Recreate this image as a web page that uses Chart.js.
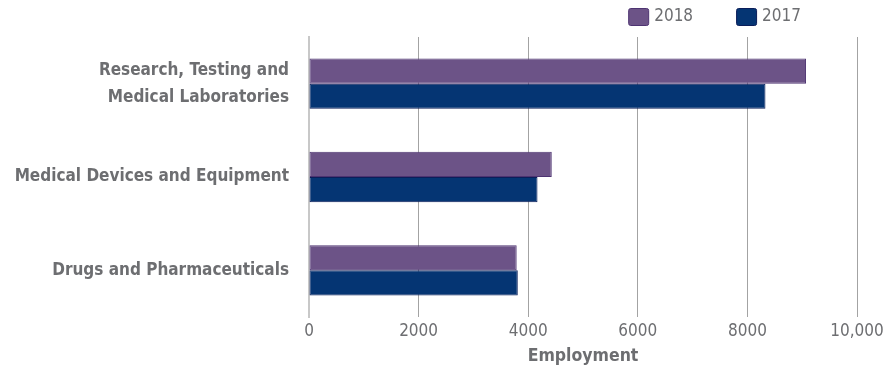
<!DOCTYPE html>
<html>
<head>
<meta charset="utf-8">
<script src="https://cdn.jsdelivr.net/npm/chart.js@4"></script>
<style>
  html, body { margin: 0; padding: 0; background: #fff; }
  #wrap { width: 896px; height: 375px; }
</style>
</head>
<body>
<div id="wrap"><canvas id="employmentChart"></canvas></div>
<script>
// data
const categories = [
    ['Research, Testing and', 'Medical Laboratories'],
    'Medical Devices and Equipment',
    'Drugs and Pharmaceuticals'
];
const seriesLabels = ['2018', '2017'];
const values2018 = [9070, 4430, 3790];
const values2017 = [8330, 4170, 3810];
const xTickValues = [0, 2000, 4000, 6000, 8000, 10000];
const xTickLabels = ['0', '2000', '4000', '6000', '8000', '10,000'];

const FONT = "'DejaVu Sans Condensed', 'DejaVu Sans', sans-serif";
const GREY = '#6d6e71';

// legend drawn at top right, above the plot
const topLegend = {
    id: 'topLegend',
    afterDraw(chart) {
        const ctx = chart.ctx;
        const area = chart.chartArea;
        ctx.save();
        ctx.font = '17px ' + FONT;
        ctx.textBaseline = 'middle';
        const items = chart.data.datasets.map(ds => ({
            text: ds.label,
            fill: ds.backgroundColor,
            stroke: ds.borderColor,
            w: 20 + 6 + ctx.measureText(ds.label).width
        }));
        const gap = 43;
        const total = items.reduce((s, it) => s + it.w, 0) + gap * (items.length - 1);
        let x = area.right - 56 - total;
        const y = 8;
        items.forEach(it => {
            ctx.fillStyle = it.fill;
            ctx.strokeStyle = it.stroke;
            ctx.lineWidth = 1;
            ctx.beginPath();
            ctx.roundRect(x + 0.5, y + 0.5, 20, 17, 2);
            ctx.fill();
            ctx.stroke();
            ctx.fillStyle = GREY;
            ctx.fillText(it.text, x + 26, y + 9);
            x += it.w + gap;
        });
        ctx.restore();
    }
};

const ctx = document.getElementById('employmentChart').getContext('2d');
new Chart(ctx, {
    type: 'bar',
    data: {
        labels: categories,
        datasets: [{
            label: seriesLabels[0],
            data: values2018,
            backgroundColor: '#6c5387',
            borderColor: '#4e3472',
            borderWidth: 1,
            borderSkipped: false
        }, {
            label: seriesLabels[1],
            data: values2017,
            backgroundColor: '#053573',
            borderColor: '#0b1e5a',
            borderWidth: 1,
            borderSkipped: false
        }]
    },
    options: {
        indexAxis: 'y',
        responsive: true,
        maintainAspectRatio: false,
        animation: false,
        categoryPercentage: 0.54,
        barPercentage: 1,
        layout: { padding: { top: 37, right: 39, bottom: 8, left: 0 } },
        plugins: {
            legend: { display: false },
            tooltip: { enabled: false }
        },
        scales: {
            x: {
                min: 0,
                max: 10000,
                afterBuildTicks(scale) {
                    scale.ticks = xTickValues.map(v => ({ value: v }));
                },
                ticks: {
                    padding: 6,
                    color: GREY,
                    font: { family: FONT, size: 17, lineHeight: 1 },
                    maxRotation: 0,
                    callback(value) {
                        const i = xTickValues.indexOf(value);
                        return i >= 0 ? xTickLabels[i] : '';
                    }
                },
                grid: {
                    drawTicks: false,
                    color: c => (c.tick && c.tick.value === 0) ? 'rgba(0,0,0,0)' : '#a3a3a3',
                    lineWidth: 1
                },
                border: { display: false },
                title: {
                    display: true,
                    text: 'Employment',
                    color: GREY,
                    font: { family: FONT, size: 17.5, weight: 'bold' },
                    padding: { top: 0, bottom: 0 }
                }
            },
            y: {
                afterFit(scale) { scale.width = 309; },
                ticks: {
                    padding: 20,
                    color: GREY,
                    font: { family: FONT, size: 17, weight: 'bold', lineHeight: '27px' }
                },
                grid: { display: false, drawTicks: false },
                border: { display: true, color: '#c8c8c8', width: 2 }
            }
        }
    },
    plugins: [topLegend]
});
</script>
</body>
</html>
